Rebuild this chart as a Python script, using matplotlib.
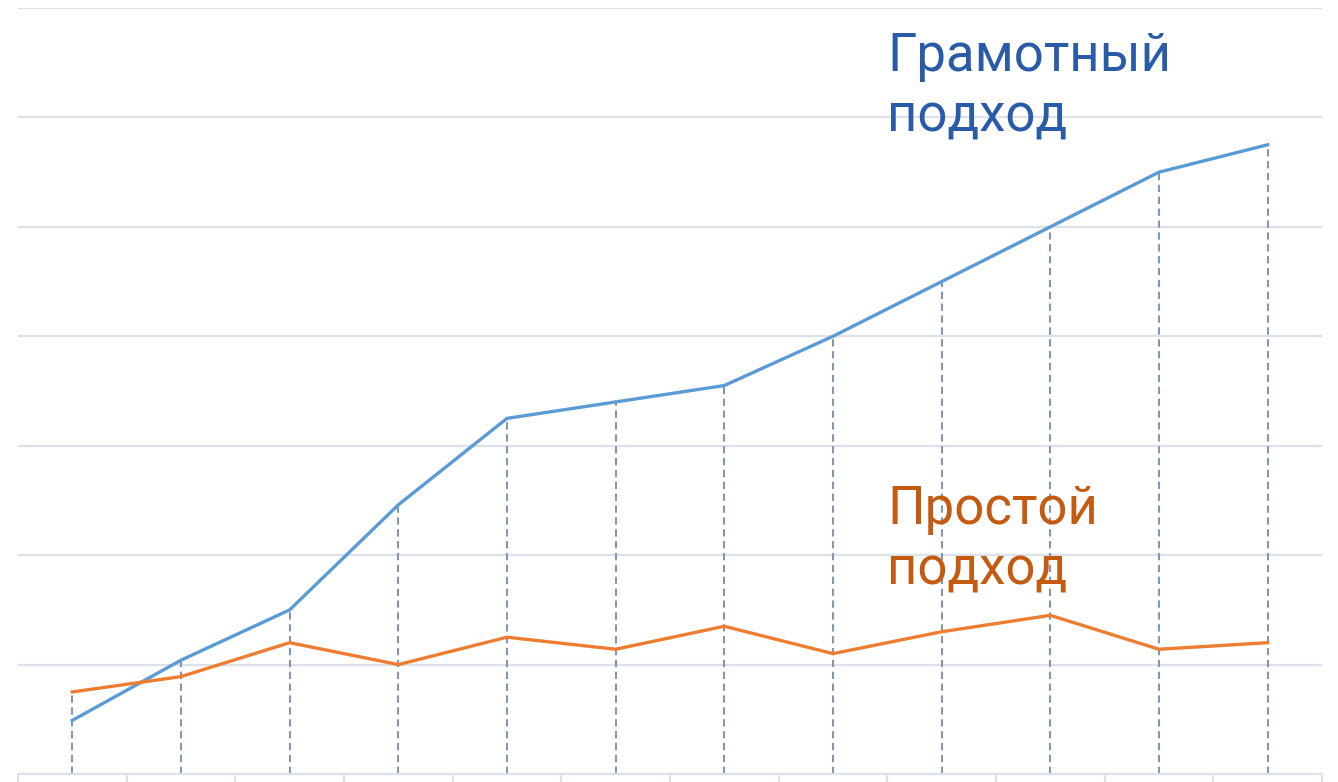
import numpy as np
import matplotlib.pyplot as plt

plt.rcParams['font.family'] = ['Roboto', 'DejaVu Sans']

# данные
steps = list(range(12))
smart = [0.49, 1.04, 1.50, 2.46, 3.25, 3.40, 3.55, 4.00, 4.50, 5.00, 5.50, 5.75]
simple = [0.75, 0.89, 1.20, 1.00, 1.25, 1.14, 1.35, 1.10, 1.30, 1.45, 1.14, 1.20]
smart_label = 'Грамотный\nподход'
simple_label = 'Простой\nподход'

grid_color = '#DCE1EA'

fig = plt.figure(figsize=(13.38, 7.82), dpi=100)
ax = fig.add_axes([18 / 1338, 8 / 782, 1304 / 1338, 766 / 782])

x = np.array(steps)
top = np.maximum(smart, simple)

# вертикальные пунктирные линии до оси
ax.vlines(x, 0, top, colors='#8497B0', linewidth=1.5,
          linestyles=(0, (3.5, 2.2)), zorder=1)

ax.plot(x, smart, color='#5B9BD5', linewidth=2.4, zorder=3)
ax.plot(x, simple, color='#ED7D31', linewidth=2.4, zorder=3)

# подписи (базовая линия нижней строки)
ax.text(7.5, 5.87, smart_label, color='#2A5BA8', fontsize=38,
        ha='left', va='baseline', linespacing=1.24)
ax.text(7.5, 1.73, simple_label, color='#C55A11', fontsize=38,
        ha='left', va='baseline', linespacing=1.24)

ax.set_xlim(-0.5, 11.5)
ax.set_ylim(0, 7)
ax.set_yticks(np.arange(0, 8))
ax.yaxis.grid(True, color=grid_color, linewidth=1.6)
ax.set_axisbelow(True)

ax.set_xticks(np.arange(-0.5, 12, 1))
ax.tick_params(axis='x', direction='out', length=8, width=1.6,
               color=grid_color, labelbottom=False)
ax.tick_params(axis='y', length=0, labelleft=False)

for side in ['top', 'left', 'right']:
    ax.spines[side].set_visible(False)
ax.spines['bottom'].set_color(grid_color)
ax.spines['bottom'].set_linewidth(1.6)

fig.savefig('out.png', dpi=100)
